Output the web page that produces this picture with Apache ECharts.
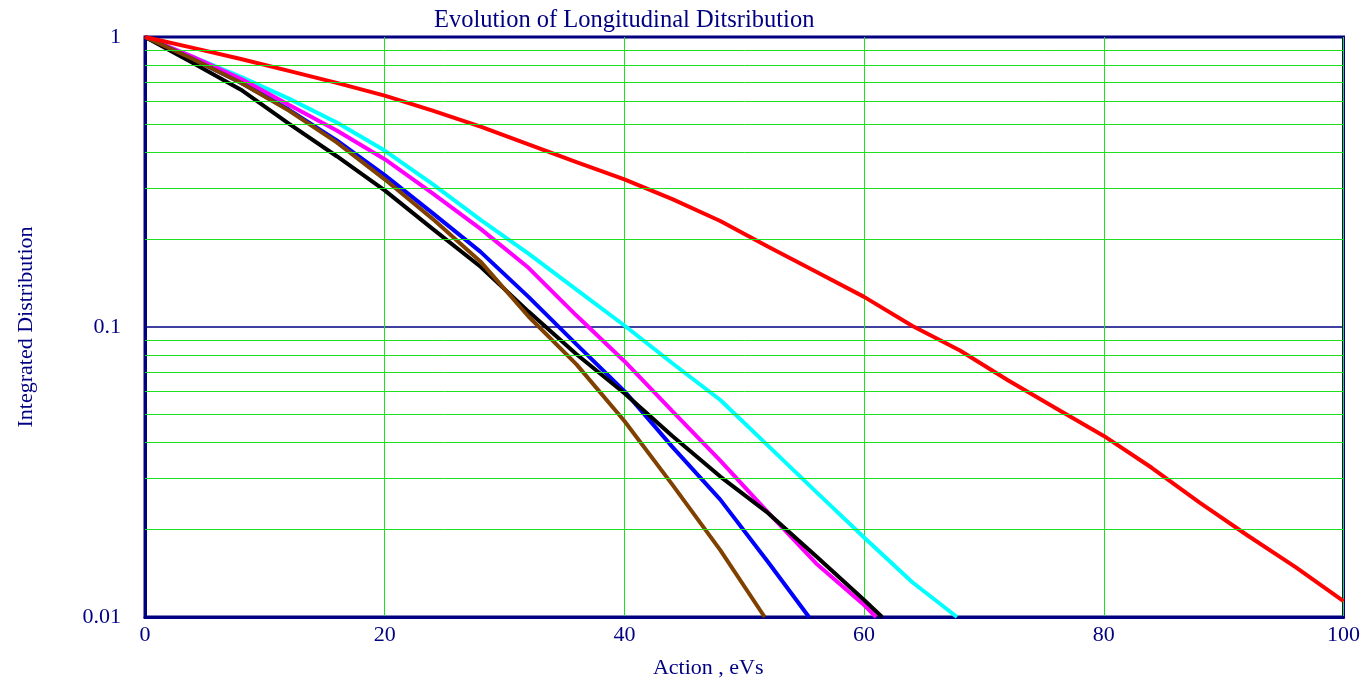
<!DOCTYPE html>
<html>
<head>
<meta charset="utf-8">
<title>Evolution of Longitudinal Ditsribution</title>
<script src="https://cdn.jsdelivr.net/npm/echarts@6/dist/echarts.min.js"></script>
<style>
  html, body { margin: 0; padding: 0; background: #fff; }
  #chart { width: 1363px; height: 684px; }
</style>
</head>
<body>
<div id="chart"></div>
<script>
// values (action in eVs, integrated distribution)
const redX = [0, 4, 8, 12, 16, 20, 24, 28, 32, 36, 40, 44, 48, 52, 56, 60, 64, 68, 72, 76, 80, 84, 88, 92, 96, 100];
const redY = [1, 0.917, 0.84, 0.764, 0.695, 0.628, 0.557, 0.491, 0.426, 0.37, 0.323, 0.276, 0.232, 0.189, 0.155, 0.127, 0.101, 0.083, 0.0655, 0.0525, 0.0421, 0.0327, 0.0248, 0.0191, 0.01485, 0.01135];

const cyanX = [0, 4, 8, 12, 16, 20, 24, 28, 32, 36, 40, 44, 48, 52, 56, 60, 64, 67.75];
const cyanY = [1, 0.854, 0.729, 0.613, 0.507, 0.406, 0.311, 0.234, 0.179, 0.1345, 0.1012, 0.075, 0.056, 0.0389, 0.027, 0.0188, 0.0132, 0.01];

const magentaX = [0, 4, 8, 12, 16, 20, 24, 28, 32, 36, 40, 44, 48, 52, 56, 60, 61];
const magentaY = [1, 0.854, 0.718, 0.584, 0.476, 0.379, 0.289, 0.218, 0.16, 0.1095, 0.0762, 0.0513, 0.0346, 0.0229, 0.0153, 0.011, 0.01];

const blueX = [0, 4, 8, 12, 16, 20, 24, 28, 32, 36, 40, 44, 48, 52, 55.4];
const blueY = [1, 0.84, 0.695, 0.562, 0.44, 0.334, 0.247, 0.1816, 0.127, 0.0871, 0.0601, 0.0386, 0.0254, 0.01545, 0.01];

const blackX = [0, 4, 8, 12, 16, 20, 24, 28, 32, 36, 40, 44, 48, 52, 56, 60, 61.5];
const blackY = [1, 0.814, 0.658, 0.503, 0.388, 0.296, 0.218, 0.1613, 0.113, 0.0805, 0.0591, 0.0421, 0.0305, 0.0228, 0.0162, 0.01144, 0.01];

const brownX = [0, 4, 8, 12, 16, 20, 24, 28, 32, 36, 40, 44, 48, 51.7];
const brownY = [1, 0.84, 0.695, 0.558, 0.433, 0.323, 0.236, 0.168, 0.1087, 0.0743, 0.0474, 0.0286, 0.017, 0.01];

const xTicks = [0, 20, 40, 60, 80, 100];
const minorGrid = [0.02, 0.03, 0.04, 0.05, 0.06, 0.07, 0.08, 0.09, 0.2, 0.3, 0.4, 0.5, 0.6, 0.7, 0.8, 0.9];

const navy = '#000080';
const green = '#1ee01e';
const serif = '"Liberation Serif", "Times New Roman", serif';

function pairs(xs, ys) {
  return xs.map((x, i) => [x, ys[i]]);
}

function curve(name, color, xs, ys) {
  return {
    name: name,
    type: 'line',
    data: pairs(xs, ys),
    symbol: 'none',
    lineStyle: { color: color, width: 4 },
    itemStyle: { color: color },
    z: 3
  };
}

let myChart = echarts.init(document.getElementById('chart'));
myChart.setOption({
  animation: false,
  backgroundColor: '#fff',
  title: {
    text: 'Evolution of Longitudinal Ditsribution',
    left: 429,
    top: 3,
    textStyle: { color: navy, fontFamily: serif, fontSize: 24.5, fontWeight: 'normal' }
  },
  grid: {
    left: 145, right: 18, top: 37, bottom: 63,
    show: true, borderColor: navy, borderWidth: 3
  },
  xAxis: {
    type: 'value',
    min: xTicks[0],
    max: xTicks[xTicks.length - 1],
    interval: 20,
    name: 'Action , eVs',
    nameLocation: 'middle',
    nameGap: 40,
    nameTextStyle: { color: navy, fontFamily: serif, fontSize: 22, padding: [0, 72, 0, 0] },
    axisLine: { show: true, lineStyle: { color: navy, width: 3 } },
    axisTick: { show: false },
    axisLabel: { color: navy, fontFamily: serif, fontSize: 22, margin: 7 },
    splitLine: { show: true, lineStyle: { color: green, width: 1 } }
  },
  yAxis: {
    type: 'log',
    logBase: 10,
    min: 0.01,
    max: 1,
    interval: 1,
    name: 'Integrated Distribution',
    nameLocation: 'middle',
    nameGap: 108,
    nameTextStyle: { color: navy, fontFamily: serif, fontSize: 22 },
    axisLine: { show: true, lineStyle: { color: navy, width: 3 } },
    axisTick: { show: false },
    axisLabel: {
      color: navy, fontFamily: serif, fontSize: 22, margin: 24,
      padding: [12, 0, 0, 0],
      formatter: function (v) { return String(+v.toPrecision(3)); }
    },
    splitLine: { show: true, lineStyle: { color: navy, width: 1.5 } }
  },
  series: [
    {
      name: 'grid',
      type: 'line',
      data: [],
      silent: true,
      z: 1,
      markLine: {
        silent: true,
        symbol: 'none',
        label: { show: false },
        animation: false,
        lineStyle: { color: green, width: 1, type: 'solid' },
        data: minorGrid.map(v => ({ yAxis: v }))
      }
    },
    curve('cyan', '#00ffff', cyanX, cyanY),
    curve('magenta', '#ff00ff', magentaX, magentaY),
    curve('blue', '#0000ff', blueX, blueY),
    curve('black', '#000000', blackX, blackY),
    curve('brown', '#804000', brownX, brownY),
    curve('red', '#ff0000', redX, redY)
  ]
});
</script>
</body>
</html>
